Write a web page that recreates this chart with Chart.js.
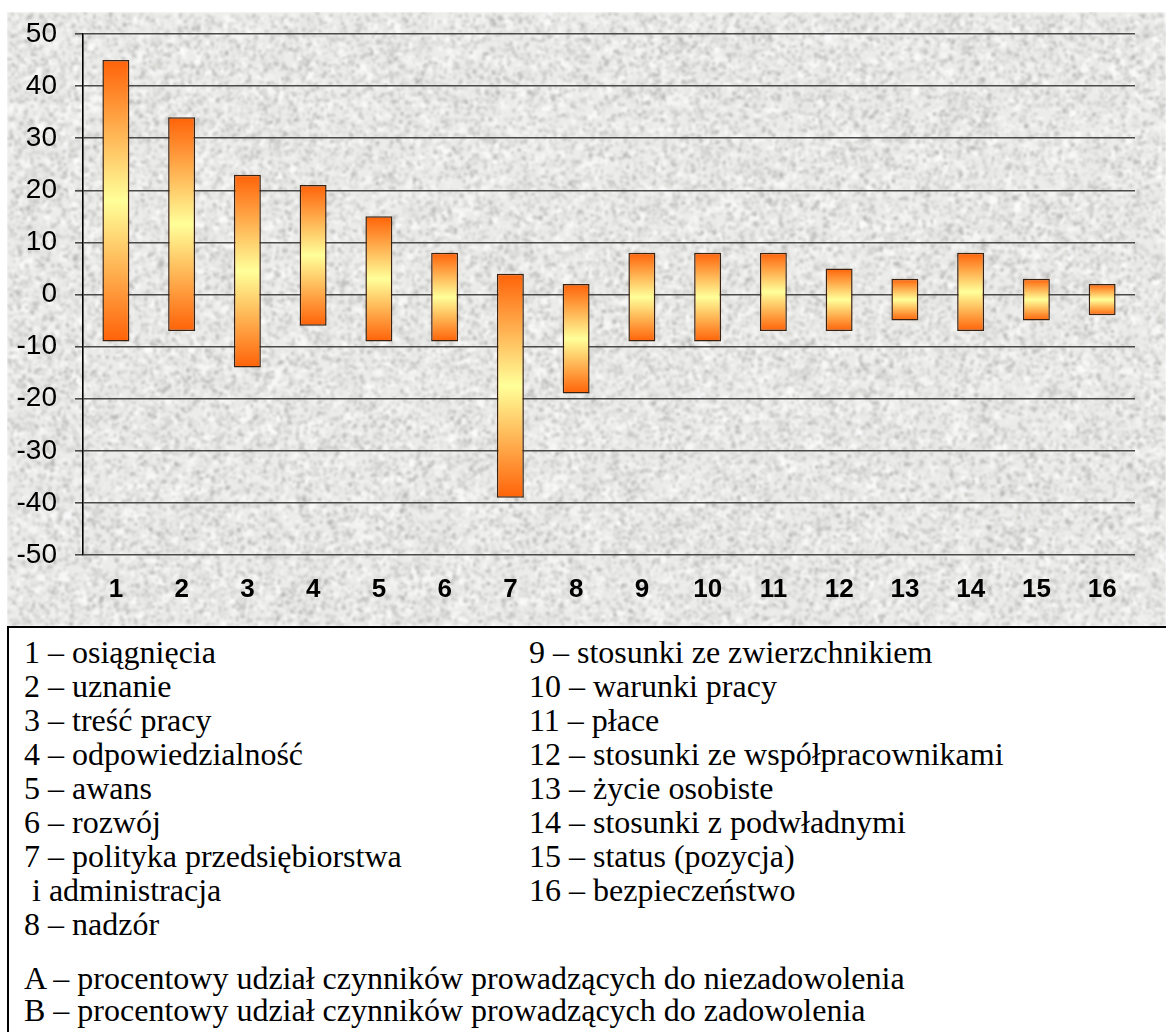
<!DOCTYPE html>
<html lang="pl">
<head>
<meta charset="utf-8">
<title>Czynniki zadowolenia i niezadowolenia</title>
<script src="https://cdn.jsdelivr.net/npm/chart.js@4.4.1/dist/chart.umd.min.js"></script>
<style>
  html, body { margin: 0; padding: 0; background: #fff; }
  body { width: 1166px; height: 1032px; position: relative; overflow: hidden; }
  #chartBox { position: absolute; left: 7px; top: 12px; width: 1159px; height: 614px; }
  #legendBox {
    position: absolute; left: 7px; top: 626px; width: 1159px; height: 406px;
    box-sizing: border-box; border-top: 2px solid #000; border-left: 2px solid #000;
    background: #fff;
    font-family: 'Liberation Serif', 'Times New Roman', 'DejaVu Serif', serif; font-size: 32px; color: #000;
  }
  .col { position: absolute; top: 7px; white-space: pre; line-height: 34px; }
  #col1 { left: 15px; }
  #col2 { left: 520px; }
  #notes { position: absolute; left: 15px; top: 334px; white-space: pre; line-height: 32px; }
</style>
</head>
<body>
<div id="chartBox"><canvas id="chart" width="1159" height="614"></canvas></div>
<div id="legendBox">
  <div class="col" id="col1"></div>
  <div class="col" id="col2"></div>
  <div id="notes"></div>
</div>
<script>
// Factor numbers shown on the x axis
const categories = ['1','2','3','4','5','6','7','8','9','10','11','12','13','14','15','16'];
// A – share of factors leading to dissatisfaction (negative, %)
const dissatisfaction = [-9, -7, -14, -6, -9, -9, -39, -19, -9, -9, -7, -7, -5, -7, -5, -4];
// B – share of factors leading to satisfaction (positive, %)
const satisfaction = [45, 34, 23, 21, 15, 8, 4, 2, 8, 8, 8, 5, 3, 8, 3, 2];
// Y axis range and step
const yMin = -50, yMax = 50, yStep = 10;

// Factor names for the key below the chart
const factorNamesLeft = [
  '1 – osiągnięcia', '2 – uznanie', '3 – treść pracy', '4 – odpowiedzialność',
  '5 – awans', '6 – rozwój', '7 – polityka przedsiębiorstwa', ' i administracja', '8 – nadzór'
];
const factorNamesRight = [
  '9 – stosunki ze zwierzchnikiem', '10 – warunki pracy', '11 – płace',
  '12 – stosunki ze współpracownikami', '13 – życie osobiste', '14 – stosunki z podwładnymi',
  '15 – status (pozycja)', '16 – bezpieczeństwo'
];
const seriesNotes = [
  'A – procentowy udział czynników prowadzących do niezadowolenia',
  'B – procentowy udział czynników prowadzących do zadowolenia'
];

document.getElementById('col1').textContent = factorNamesLeft.join('\n');
document.getElementById('col2').textContent = factorNamesRight.join('\n');
document.getElementById('notes').textContent = seriesNotes.join('\n');

// Granite-like background texture (deterministic PRNG)
function mulberry32(a) {
  return function () {
    a |= 0; a = a + 0x6D2B79F5 | 0;
    let t = Math.imul(a ^ a >>> 15, 1 | a);
    t = t + Math.imul(t ^ t >>> 7, 61 | t) ^ t;
    return ((t ^ t >>> 14) >>> 0) / 4294967296;
  };
}
function makeTexture(w, h) {
  const raw = document.createElement('canvas');
  raw.width = w; raw.height = h;
  const r = raw.getContext('2d');
  r.fillStyle = '#ececea';
  r.fillRect(0, 0, w, h);
  const rnd = mulberry32(20240611);
  // soft light patches
  const patches = Math.floor(w * h / 60);
  for (let i = 0; i < patches; i++) {
    const x = rnd() * w, y = rnd() * h;
    const l = Math.floor(246 + rnd() * 9);
    r.fillStyle = `rgba(${l},${l},${l},${0.5 + rnd() * 0.4})`;
    r.fillRect(x, y, 2 + rnd() * 6, 2 + rnd() * 6);
  }
  // grey mottling
  const specks = Math.floor(w * h / 14);
  for (let i = 0; i < specks; i++) {
    const x = rnd() * w, y = rnd() * h;
    const l = Math.floor(165 + rnd() * 55);
    r.fillStyle = `rgba(${l},${l},${l - 2},${0.25 + rnd() * 0.45})`;
    r.fillRect(x, y, 1 + rnd() * 3.5, 1 + rnd() * 3.5);
  }
  const out = document.createElement('canvas');
  out.width = w; out.height = h;
  const o = out.getContext('2d');
  o.filter = 'blur(1px)';
  o.drawImage(raw, 0, 0);
  return out;
}
const texture = makeTexture(1159, 614);

const texturePlugin = {
  id: 'textureBackground',
  beforeDraw(chart) {
    chart.ctx.drawImage(texture, 0, 0);
  }
};

// Orange–yellow–orange gradient along each floating bar
function barGradient(c) {
  const y = c.chart.scales && c.chart.scales.y;
  const v = c.raw;
  if (!y || !Array.isArray(v)) return '#ffaa44';
  const top = y.getPixelForValue(Math.max(v[0], v[1]));
  const bot = y.getPixelForValue(Math.min(v[0], v[1]));
  if (!Number.isFinite(top) || !Number.isFinite(bot) || top === bot) return '#ffaa44';
  const g = c.chart.ctx.createLinearGradient(0, top, 0, bot);
  g.addColorStop(0, '#ff6208');
  g.addColorStop(0.5, '#ffff99');
  g.addColorStop(1, '#ff6208');
  return g;
}

const ranges = categories.map((_, i) => [dissatisfaction[i], satisfaction[i]]);

new Chart(document.getElementById('chart'), {
  type: 'bar',
  data: {
    labels: categories,
    datasets: [{
      data: ranges,
      backgroundColor: barGradient,
      borderColor: '#3b2210',
      borderWidth: 1.5,
      borderSkipped: false,
      barPercentage: 0.41,
      categoryPercentage: 1.0
    }]
  },
  options: {
    responsive: false,
    animation: false,
    devicePixelRatio: 1,
    layout: { padding: { top: 22, right: 31, left: 0, bottom: 0 } },
    plugins: {
      legend: { display: false },
      tooltip: { enabled: false }
    },
    scales: {
      x: {
        grid: { display: false, drawTicks: false },
        border: { display: false },
        ticks: {
          color: '#000',
          padding: 19,
          font: { family: '"Liberation Sans", Arial, sans-serif', size: 26, weight: 'bold' }
        },
        afterFit(scale) { scale.height = 71; }
      },
      y: {
        min: yMin, max: yMax,
        ticks: {
          stepSize: yStep,
          color: '#000',
          padding: 18,
          font: { family: '"Liberation Sans", Arial, sans-serif', size: 28 }
        },
        grid: { color: '#4a4a4a', lineWidth: 1.6, tickLength: 8, drawTicks: true, tickColor: '#4a4a4a' },
        border: { display: true, color: '#000', width: 1.6 },
        afterFit(scale) {
          scale.width = 76;
          scale.paddingTop = 0;
          scale.paddingBottom = 0;
        }
      }
    }
  },
  plugins: [texturePlugin]
});
</script>
</body>
</html>
